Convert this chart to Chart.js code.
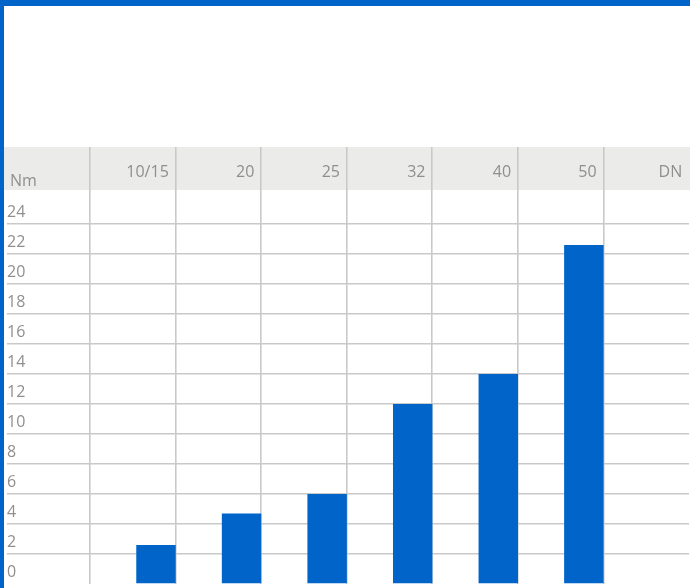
<!DOCTYPE html>
<html>
<head>
<meta charset="utf-8">
<script src="https://cdn.jsdelivr.net/npm/chart.js@4"></script>
<style>
  body { margin: 0; background: #fff; }
  #quadro { width: 686px; height: 582px; border-top: 6px solid #0164c9; border-left: 4px solid #0164c9; }
</style>
</head>
<body>
<div id="quadro"><canvas id="grafico" width="686" height="582"></canvas></div>
<script>
// dados
const colunas = ['10/15', '20', '25', '32', '40', '50', 'DN'];
const torque = [2.6, 4.7, 6, 12, 14, 22.6, null];
const vazio = [null, null, null, null, null, null, null];
const passoY = 2;
const topoY = 24;
const unidade = 'Nm';

const azul = '#0164c9';
const cinzaLinha = '#c9c9c9';
const cinzaTexto = '#8f8f8f';

//faixa cinza do cabeçalho e texto "Nm"
const cabecalho = {
    id: 'cabecalho',
    beforeDraw(chart) {
        const ctx = chart.ctx;
        const topo = chart.chartArea.top;
        ctx.save();
        ctx.fillStyle = '#ebebe9';
        ctx.fillRect(0, topo - 43, chart.width, 43);
        ctx.restore();
    },
    afterDraw(chart) {
        const ctx = chart.ctx;
        ctx.save();
        ctx.fillStyle = cinzaTexto;
        ctx.font = '16px "Open Sans"';
        ctx.textBaseline = 'middle';
        ctx.fillText(unidade, 6, chart.chartArea.top - 9);
        ctx.restore();
    }
};

const grafico = new Chart(document.getElementById('grafico'), {
    type: 'bar',
    data: {
        labels: colunas,
        datasets: [
            { label: '', data: vazio, backgroundColor: 'transparent' },
            { label: unidade, data: torque, backgroundColor: azul }
        ]
    },
    plugins: [cabecalho],
    options: {
        responsive: false,
        animation: false,
        categoryPercentage: 1.085,
        barPercentage: 0.85,
        layout: { padding: { top: 141, bottom: 4, left: 3, right: 1 } },
        plugins: { legend: { display: false }, tooltip: { enabled: false } },
        scales: {
            x: {
                position: 'top',
                afterFit: (scale) => { scale.height = 43; },
                border: { display: false },
                grid: {
                    offset: true,
                    lineWidth: 1.6,
                    tickLength: 43,
                    color: (c) => c.index === undefined ? 'transparent' : cinzaLinha
                },
                ticks: {
                    align: 'end',
                    labelOffset: 36,
                    padding: -35,
                    color: cinzaTexto,
                    font: { family: 'Open Sans', size: 16 }
                }
            },
            y: {
                min: 0,
                max: 26.27,
                afterFit: (scale) => {
                    scale.width = 83;
                    scale.paddingTop = 0;
                    scale.paddingBottom = 0;
                },
                afterBuildTicks: (scale) => {
                    scale.ticks = scale.ticks.filter(t => t.value <= topoY && t.value % passoY === 0);
                },
                border: { display: false },
                grid: {
                    lineWidth: 1.6,
                    tickLength: 83,
                    color: (c) => c.tick && c.tick.value === 0 ? 'transparent' : cinzaLinha
                },
                ticks: {
                    stepSize: passoY,
                    crossAlign: 'far',
                    labelOffset: -12,
                    padding: 0,
                    color: cinzaTexto,
                    font: { family: 'Open Sans', size: 16 }
                }
            }
        }
    }
});
</script>
</body>
</html>
